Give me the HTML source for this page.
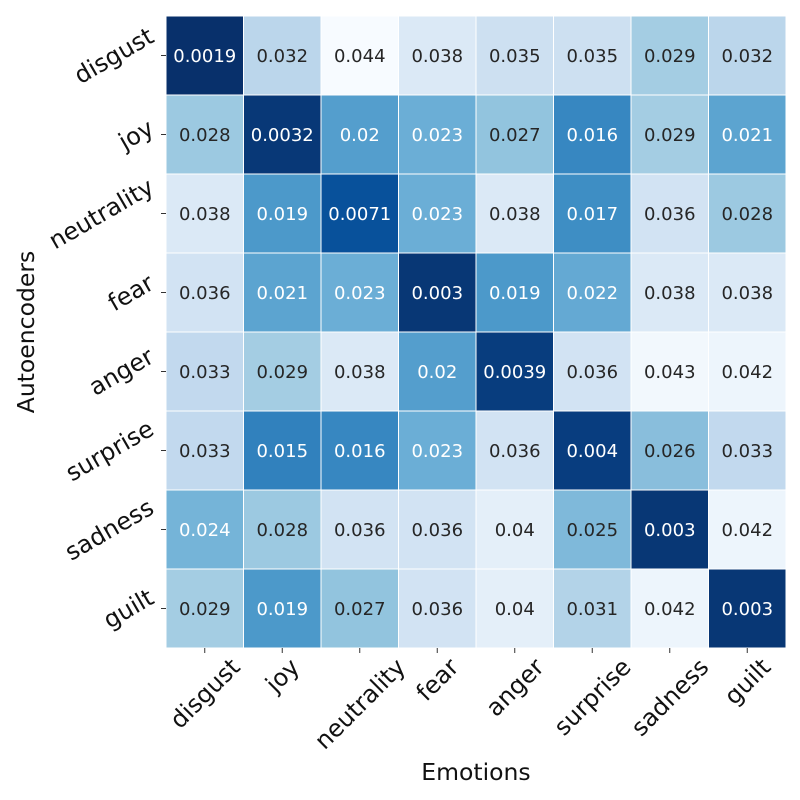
<!DOCTYPE html>
<html><head><meta charset="utf-8"><style>
html,body{margin:0;padding:0;background:#fff;}
svg{display:block;font-family:"DejaVu Sans","Liberation Sans",sans-serif;}
</style></head><body>
<svg id="chart" width="800" height="800" viewBox="0 0 800 800">
<text x="476" y="780" font-size="23.5" text-anchor="middle" fill="#111">Emotions</text>
<text transform="translate(34,332) rotate(-90)" font-size="23.5" text-anchor="middle" fill="#111">Autoencoders</text>
</svg>
<script>
const categories = ["disgust","joy","neutrality","fear","anger","surprise","sadness","guilt"];
const rowLabels = ["disgust","joy","neutrality","fear","anger","surprise","sadness","guilt"];
const values = [
[0.0019,0.032,0.044,0.038,0.035,0.035,0.029,0.032],
[0.028,0.0032,0.02,0.023,0.027,0.016,0.029,0.021],
[0.038,0.019,0.0071,0.023,0.038,0.017,0.036,0.028],
[0.036,0.021,0.023,0.003,0.019,0.022,0.038,0.038],
[0.033,0.029,0.038,0.02,0.0039,0.036,0.043,0.042],
[0.033,0.015,0.016,0.023,0.036,0.004,0.026,0.033],
[0.024,0.028,0.036,0.036,0.04,0.025,0.003,0.042],
[0.029,0.019,0.027,0.036,0.04,0.031,0.042,0.003]
];
const svg=document.getElementById('chart');
const NS='http://www.w3.org/2000/svg';
const X0=166,X1=786,Y0=16,Y1=648;
const FS=24, TH=FS*0.78;
const cw=(X1-X0)/categories.length, ch=(Y1-Y0)/rowLabels.length;
const flat=values.flat();
const vmin=Math.min(...flat), vmax=Math.max(...flat);
const stops=[[247,251,255],[222,235,247],[198,219,239],[158,202,225],[107,174,214],[66,146,198],[33,113,181],[8,81,156],[8,48,107]];
function tnorm(v){let t=(vmax-v)/(vmax-vmin);return Math.max(0,Math.min(1,t));}
function cmap(v){
  const t=tnorm(v);
  const p=t*8, i=Math.min(7,Math.floor(p)), f=p-i;
  return stops[i].map((c,k)=>Math.round(c+(stops[i+1][k]-c)*f));
}
function mk(tag,attrs){const e=document.createElementNS(NS,tag);for(const k in attrs)e.setAttribute(k,attrs[k]);return e;}
const xs=j=>X0+j*cw, ys=i=>Y0+i*ch;
values.forEach((row,i)=>row.forEach((v,j)=>{
  const c=cmap(v);
  const r=mk('rect',{x:xs(j),y:ys(i),width:cw,height:ch,fill:`rgb(${c})`,stroke:'#fff','stroke-width':1});
  
  
  svg.appendChild(r);
  const t=mk('text',{x:xs(j)+cw/2,y:ys(i)+ch/2+6.5,'font-size':18,'text-anchor':'middle',fill:tnorm(v)>0.46?'#fff':'#262626'});
  t.textContent=String(v);
  
  
  svg.appendChild(t);
}));
categories.forEach((name,j)=>{
  const cx=xs(j)+cw/2;
  const tk=mk('line',{x1:cx,x2:cx,y1:Y1,y2:Y1+5,stroke:'#333','stroke-width':1});
  
  
  svg.appendChild(tk);
  const t=mk('text',{'font-size':FS,'text-anchor':'middle',fill:'#111',dy:'0.35em'});
  t.textContent=name;
  
  
  svg.appendChild(t);
  const w=t.getComputedTextLength();
  const bh=(w+TH)*Math.SQRT1_2;
  t.setAttribute('transform',`translate(${cx},${Y1+8+bh/2}) rotate(-45)`);
});
const s30=0.5,c30=Math.sqrt(3)/2;
rowLabels.forEach((name,i)=>{
  const cy=ys(i)+ch/2;
  const tk=mk('line',{x1:X0-5,x2:X0,y1:cy,y2:cy,stroke:'#333','stroke-width':1});
  
  
  svg.appendChild(tk);
  const t=mk('text',{'font-size':FS,'text-anchor':'middle',fill:'#111',dy:'0.35em'});
  t.textContent=name;
  
  
  svg.appendChild(t);
  const w=t.getComputedTextLength();
  const bw=w*c30+TH*s30;
  t.setAttribute('transform',`translate(${X0-10-bw/2},${cy}) rotate(-30)`);
});
</script>
</body></html>
